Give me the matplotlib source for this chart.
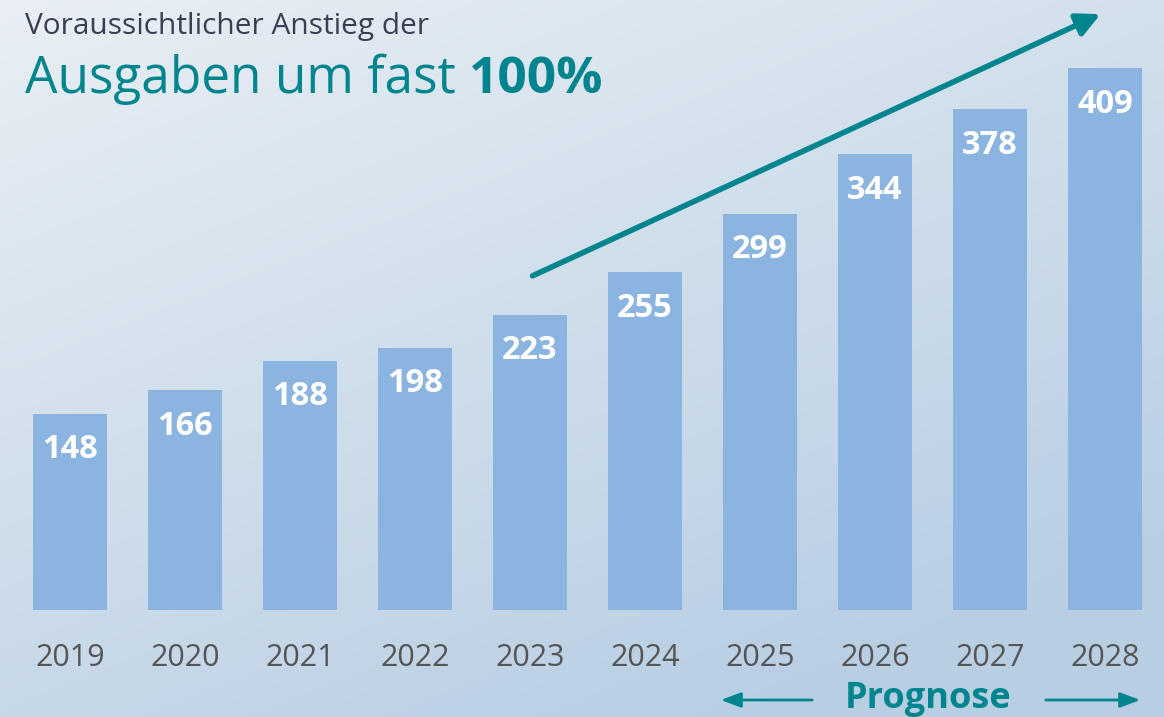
import numpy as np
import matplotlib.pyplot as plt

# Daten
years = ['2019', '2020', '2021', '2022', '2023', '2024', '2025', '2026', '2027', '2028']
values = [148, 166, 188, 198, 223, 255, 299, 344, 378, 409]

W, H = 1164, 717
teal = '#00858f'
bar_color = '#8bb4e0'

plt.rcParams['font.family'] = ['Open Sans', 'DejaVu Sans']

fig = plt.figure(figsize=(W / 100, H / 100), dpi=100)

# Hintergrund mit Verlauf
bg = fig.add_axes([0, 0, 1, 1], zorder=0)
yy, xx = np.mgrid[0:1:200j, 0:1:300j]
t = np.clip(0.7 * yy + 0.45 * xx, 0, 1)
c_light = np.array([233, 239, 244]) / 255
c_dark = np.array([184, 206, 227]) / 255
img = c_light[None, None, :] * (1 - t[..., None]) + c_dark[None, None, :] * t[..., None]
bg.imshow(img, aspect='auto', extent=[0, 1, 0, 1], origin='upper')
bg.axis('off')

# Balken
ax = fig.add_axes([0, 0, 1, 1], zorder=1)
ax.patch.set_alpha(0)
x = np.arange(len(years))
ax.bar(x, values, width=0.635, color=bar_color)
ax.set_xlim(-70 / 115, (W - 70) / 115)
ax.set_ylim(-107 / 1.325, (H - 107) / 1.325)
ax.axis('off')

for xi, v in zip(x, values):
    ax.text(xi, v - 36 / 1.325, str(v), ha='center', va='center', color='white',
            fontsize=23.5, fontweight='bold')
    ax.text(xi, -48 / 1.325, years[xi], ha='center', va='center', color='#555555',
            fontsize=22)

# Titel
def fx(px):
    return px / W

def fy(py):
    return 1 - py / H

fig.text(fx(25), fy(34), 'Voraussichtlicher Anstieg der', color='#3b3f56',
         fontsize=21.5, ha='left', va='baseline')
t1 = fig.text(fx(25), fy(93), 'Ausgaben um fast ', color=teal, fontsize=37,
              ha='left', va='baseline')
fig.canvas.draw()
bb = t1.get_window_extent()
fig.text(bb.x1 / W, fy(93), '100%', color=teal, fontsize=37, fontweight='bold',
         ha='left', va='baseline')

# Trendpfeil
ax.annotate('', xy=(fx(1103), fy(13)), xytext=(fx(530), fy(277)),
            xycoords='figure fraction', textcoords='figure fraction',
            arrowprops=dict(arrowstyle='-|>,head_length=1.4,head_width=0.7',
                            color=teal, lw=4))

# Prognose
fig.text(fx(928), fy(699), 'Prognose', color=teal, fontsize=26, fontweight='bold',
         ha='center', va='center')
ax.annotate('', xy=(fx(718), fy(700)), xytext=(fx(815), fy(700)),
            xycoords='figure fraction', textcoords='figure fraction',
            arrowprops=dict(arrowstyle='-|>,head_length=1.2,head_width=0.45',
                            color=teal, lw=2))
ax.annotate('', xy=(fx(1143), fy(700)), xytext=(fx(1043), fy(700)),
            xycoords='figure fraction', textcoords='figure fraction',
            arrowprops=dict(arrowstyle='-|>,head_length=1.2,head_width=0.45',
                            color=teal, lw=2))

fig.savefig('out.png', dpi=100)
